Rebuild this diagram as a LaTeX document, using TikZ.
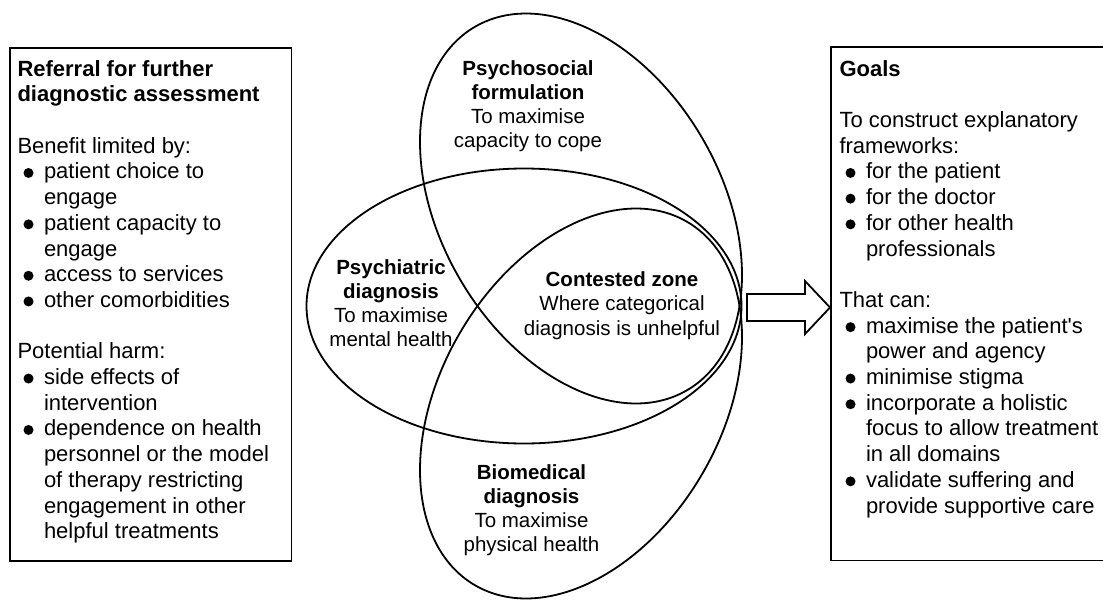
\documentclass[tikz,border=0pt]{standalone}
\usepackage{fontspec}
\setmainfont{Liberation Sans}
\usetikzlibrary{calc}
\newcommand{\bdot}{\tikz[baseline=0pt]{\fill (0pt,6pt) circle[radius=5pt];}}
\newcommand{\bl}[1]{\makebox[26.5pt][l]{\hspace{6pt}\bdot}#1}
\newcommand{\cl}[1]{\hspace*{26.5pt}#1}
\tikzset{
  shapeline/.style={line width=1.8pt},
  boxtext/.style={font=\fontsize{22}{25.7}\selectfont, align=left, inner sep=0pt, anchor=north west},
  ovaltext/.style={font=\fontsize{20.5}{24.2}\selectfont, align=center, inner sep=0pt},
}
\begin{document}
\begin{tikzpicture}[x=1pt,y=-1pt]
\useasboundingbox (0,0) rectangle (1103,600);
% left box
\node[draw, shapeline, anchor=north west, inner sep=0pt, minimum width=281.5pt, minimum height=513pt] (refbox) at (9,47) {};
\node[boxtext] (reftext) at (17.3,60) {%
\textbf{Referral for further}\\
\textbf{diagnostic assessment}\\[25.7pt]
Benefit limited by:\\
\bl{patient choice to}\\
\cl{engage}\\
\bl{patient capacity to}\\
\cl{engage}\\
\bl{access to services}\\
\bl{other comorbidities}\\[25.7pt]
Potential harm:\\
\bl{side effects of}\\
\cl{intervention}\\
\bl{dependence on health}\\
\cl{personnel or the model}\\
\cl{of therapy restricting}\\
\cl{engagement in other}\\
\cl{helpful treatments}};
% right box
\node[anchor=north west, inner sep=0pt, minimum width=273pt, minimum height=513pt] (goalbox) at (831,47) {};
\draw[shapeline] (goalbox.north east) -- (goalbox.north west) -- (goalbox.south west) -- (goalbox.south east);
\node[boxtext] (goaltext) at (839.3,60) {%
\textbf{Goals}\\[25.7pt]
To construct explanatory\\
frameworks:\\
\bl{for the patient}\\
\bl{for the doctor}\\
\bl{for other health}\\
\cl{professionals}\\[25.7pt]
That can:\\
\bl{maximise the patient\textquotesingle s}\\
\cl{power and agency}\\
\bl{minimise stigma}\\
\bl{incorporate a holistic}\\
\cl{focus to allow treatment}\\
\cl{in all domains}\\
\bl{validate suffering and}\\
\cl{provide supportive care}};
% ellipses
\coordinate (cPsychiatric) at (524,306);
\coordinate (cPsychosocial) at (581,208.5);
\coordinate (cBiomedical) at (581,403.5);
\draw[shapeline] (cPsychiatric) ellipse [x radius=217.5pt, y radius=137.5pt];
\draw[shapeline, rotate around={-59.7:(cPsychosocial)}] (cPsychosocial) ellipse [x radius=210.4pt, y radius=140.2pt];
\draw[shapeline, rotate around={59.7:(cBiomedical)}] (cBiomedical) ellipse [x radius=210.4pt, y radius=140.2pt];
% texts
\node[ovaltext] (psychosocial) at (528,106) {\textbf{Psychosocial}\\ \textbf{formulation}\\ To maximise\\ capacity to cope};
\node[ovaltext] (psychiatric) at (391,303) {\textbf{Psychiatric}\\ \textbf{diagnosis}\\ To maximise\\ mental health};
\node[ovaltext] (contested) at (622,305.5) {\textbf{Contested zone}\\ Where categorical\\ diagnosis is unhelpful};
\node[ovaltext] (biomedical) at (531.5,510) {\textbf{Biomedical}\\ \textbf{diagnosis}\\ To maximise\\ physical health};
% block arrow
\coordinate (arrowtail) at (747,307.5);
\begin{scope}[shift={(arrowtail)}]
\draw[shapeline, fill=white, line join=miter] (0,-13.5) -- (58,-13.5) -- (58,-26.5) -- (83,0) -- (58,26.5) -- (58,13.5) -- (0,13.5) -- cycle;
\end{scope}
\end{tikzpicture}
\end{document}
